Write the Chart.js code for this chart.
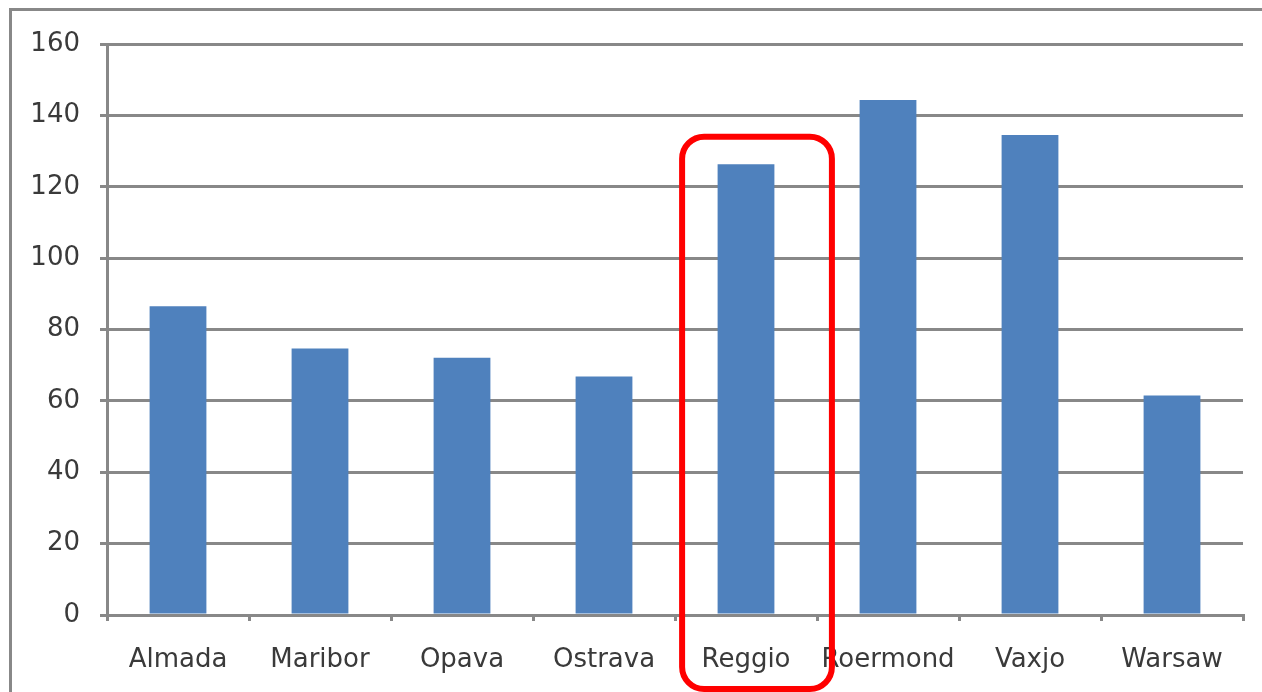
<!DOCTYPE html>
<html>
<head>
<meta charset="utf-8">
<script src="https://cdn.jsdelivr.net/npm/chart.js@4/dist/chart.umd.min.js"></script>
<style>
  html, body { margin:0; padding:0; background:#fff; overflow:hidden; }
  #wrap { width:1262px; height:692px; position:relative; }
</style>
</head>
<body>
<div id="wrap"><canvas id="c" width="1262" height="692"></canvas></div>
<script>
// ── Data ────────────────────────────────────────────────
const cities = ['Almada', 'Maribor', 'Opava', 'Ostrava', 'Reggio', 'Roermond', 'Vaxjo', 'Warsaw'];
const values = [86.5, 74.7, 72.1, 66.8, 126.3, 144.3, 134.5, 61.5];
const yTicks = [0, 20, 40, 60, 80, 100, 120, 140, 160];

const highlightIndex = 4;   // Reggio
const highlightTop   = 134; // value where the red box starts

const GREY = '#888888';
const FONT = "'DejaVu Sans', Verdana, sans-serif";

// outer frame (only top/left edges visible in the crop)
const framePlugin = {
  id: 'frame',
  afterDraw(chart) {
    const c = chart.ctx;
    c.save();
    c.fillStyle = GREY;
    c.fillRect(9, 8, 3, 684);      // left edge
    c.fillRect(9, 8, 1253, 3);     // top edge
    c.restore();
  }
};

// red rounded box round the highlighted category (sits a bit right of centre)
const highlightPlugin = {
  id: 'highlight',
  afterDraw(chart) {
    const x = chart.scales.x, y = chart.scales.y;
    const cw = (x.right - x.left) / cities.length;
    const cx = x.getPixelForValue(highlightIndex);
    const left = cx - cw * 0.45, right = cx + cw * 0.605;
    const top = y.getPixelForValue(highlightTop);
    const bottom = chart.chartArea.bottom + 74;
    const c = chart.ctx;
    c.save();
    c.strokeStyle = '#FF0000';
    c.lineWidth = 6;
    c.beginPath();
    c.roundRect(left, top, right - left, bottom - top, 22);
    c.stroke();
    c.restore();
  }
};

new Chart(document.getElementById('c'), {
  type: 'bar',
  data: {
    labels: cities,
    datasets: [{
      data: values,
      backgroundColor: '#4F81BD',
      borderWidth: 0,
      categoryPercentage: 1,
      barPercentage: 0.4,
    }]
  },
  options: {
    responsive: false, animation: false,
    layout: { padding: { left: 0, right: 19, top: 44, bottom: 0 } },
    plugins: { legend: { display:false }, tooltip: { enabled:false } },
    scales: {
      x: {
        grid: { display:true, drawOnChartArea:false, drawTicks:true, tickLength:6,
                color:GREY, lineWidth:3, offset:true },
        border: { display:true, color:GREY, width:3 },
        ticks: { color:'#3a3a3a', font:{ family:FONT, size:26 }, padding:24, maxRotation:0, autoSkip:false },
        afterFit(s) { s.height = 77; },
      },
      y: {
        min: 0, max: 160,
        afterBuildTicks(s) { s.ticks = yTicks.map(v => ({ value: v })); },
        grid: { color:GREY, lineWidth:3, tickLength:7 },
        border: { display:true, color:GREY, width:3 },
        ticks: { color:'#3a3a3a', font:{ family:FONT, size:26 }, padding:20 },
        afterFit(s) { s.width = 107; },
      }
    }
  },
  plugins: [framePlugin, highlightPlugin]
});
</script>
</body>
</html>
